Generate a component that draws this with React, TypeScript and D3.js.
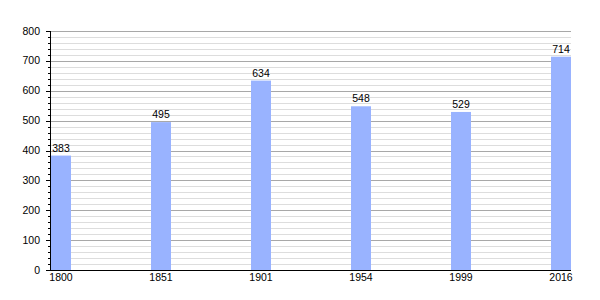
import React from "react";
import * as d3 from "d3";

const years = ["1800", "1851", "1901", "1954", "1999", "2016"];
const population = [383, 495, 634, 548, 529, 714];
const yTicks = [0, 100, 200, 300, 400, 500, 600, 700, 800];

export default function App() {
  const width = 600;
  const height = 300;
  const left = 51;
  const right = 571;
  const top = 31;
  const bottom = 270;

  const x = d3.scaleBand<string>().domain(years).range([left, right]).paddingInner(0.8).paddingOuter(0);
  const y = d3.scaleLinear().domain([0, 800]).range([bottom, top]);
  const minor = d3.range(0, 801, 20).filter((v) => v % 100 !== 0);
  const font = "'Liberation Sans', Arial, sans-serif";

  return (
    <svg
      width={width}
      height={height}
      style={{ position: "absolute", left: 0, top: 0, background: "#fff" }}
      fontFamily={font}
    >
      <rect x={0} y={0} width={width} height={height} fill="#fff" />
      {minor.map((v) => (
        <line key={"m" + v} x1={left} x2={right} y1={Math.round(y(v)) + 0.5} y2={Math.round(y(v)) + 0.5} stroke="#dddddd" strokeWidth={1} />
      ))}
      {yTicks.filter((v) => v > 0).map((v) => (
        <line key={"g" + v} x1={left} x2={right} y1={Math.round(y(v)) + 0.5} y2={Math.round(y(v)) + 0.5} stroke="#a8a8a8" strokeWidth={1} />
      ))}
      {years.map((yr, i) => (
        <rect
          key={yr}
          x={x(yr)!}
          y={y(population[i])}
          width={x.bandwidth()}
          height={bottom - y(population[i])}
          fill="#99b3ff"
        />
      ))}
      {years.map((yr, i) => (
        <text
          key={"l" + yr}
          x={x(yr)! + x.bandwidth() / 2}
          y={y(population[i]) - 4}
          textAnchor="middle"
          fontSize={10.5}
          fill="#000"
        >
          {population[i]}
        </text>
      ))}
      {/* axes */}
      <line x1={left - 0.5} x2={left - 0.5} y1={top} y2={bottom + 0.5} stroke="#000" strokeWidth={1} />
      <line x1={left - 0.5} x2={right} y1={bottom + 0.5} y2={bottom + 0.5} stroke="#000" strokeWidth={1} />
      {minor.map((v) => (
        <line key={"mt" + v} x1={left - 3} x2={left} y1={Math.round(y(v)) + 0.5} y2={Math.round(y(v)) + 0.5} stroke="#000" strokeWidth={1} />
      ))}
      {yTicks.map((v) => (
        <line key={"t" + v} x1={left - 5} x2={left} y1={Math.round(y(v)) + 0.5} y2={Math.round(y(v)) + 0.5} stroke="#000" strokeWidth={1} />
      ))}
      {yTicks.map((v) => (
        <text key={"yl" + v} x={40} y={y(v) + 3.5} textAnchor="end" fontSize={10.5} fill="#000">
          {v}
        </text>
      ))}
      {years.map((yr) => (
        <text key={"xl" + yr} x={x(yr)! + x.bandwidth() / 2} y={281} textAnchor="middle" fontSize={10.5} fill="#000">
          {yr}
        </text>
      ))}
    </svg>
  );
}
